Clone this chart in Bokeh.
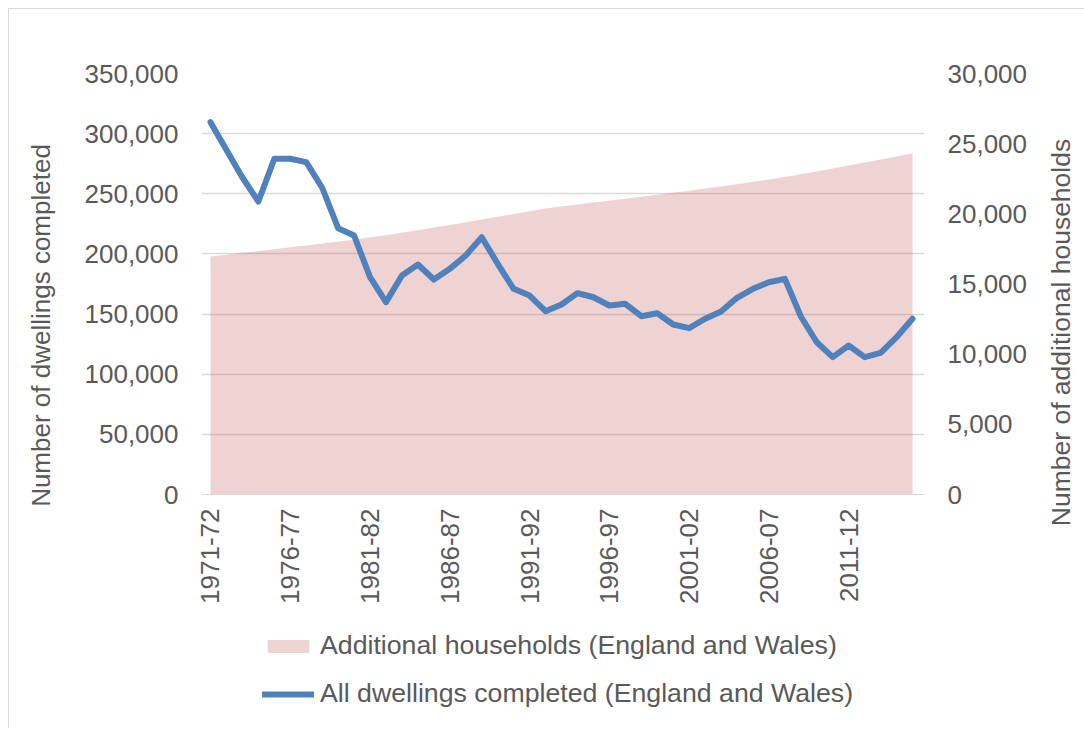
import math
from bokeh.plotting import figure
from bokeh.layouts import row, column
from bokeh.models import (Range1d, LinearAxis, FixedTicker, NumeralTickFormatter,
                          Legend, LegendItem, Label, ColumnDataSource)
from bokeh.embed import file_html
from bokeh.resources import INLINE

# ---------------- data ----------------
categories = ["1971-72", "1972-73", "1973-74", "1974-75", "1975-76", "1976-77", "1977-78",
              "1978-79", "1979-80", "1980-81", "1981-82", "1982-83", "1983-84", "1984-85",
              "1985-86", "1986-87", "1987-88", "1988-89", "1989-90", "1990-91", "1991-92",
              "1992-93", "1993-94", "1994-95", "1995-96", "1996-97", "1997-98", "1998-99",
              "1999-00", "2000-01", "2001-02", "2002-03", "2003-04", "2004-05", "2005-06",
              "2006-07", "2007-08", "2008-09", "2009-10", "2010-11", "2011-12", "2012-13",
              "2013-14", "2014-15", "2015-16"]

dwellings_completed = [309500, 286500, 263600, 243600, 279100, 279100, 276300, 255000, 221400,
                       215300, 180700, 159900, 182100, 191200, 178700, 187600, 198700, 213900,
                       191800, 171000, 165400, 152400, 158000, 167400, 164000, 157100, 158500,
                       148200, 150700, 141300, 138300, 146100, 152100, 163500, 171000, 176500,
                       179300, 148000, 126600, 114200, 123900, 114200, 117800, 130800, 146100]

additional_households = [16960, 17090, 17220, 17350, 17480, 17610, 17740, 17880, 18020, 18160,
                         18330, 18480, 18650, 18830, 19020, 19210, 19400, 19600, 19800, 19990,
                         20180, 20380, 20520, 20660, 20800, 20940, 21080, 21220, 21360, 21500,
                         21650, 21800, 21950, 22110, 22280, 22450, 22630, 22820, 23020, 23230,
                         23440, 23650, 23870, 24090, 24320]

label_every = 5
left_ticks = [0, 50000, 100000, 150000, 200000, 250000, 300000, 350000]
right_ticks = [0, 5000, 10000, 15000, 20000, 25000, 30000]

left_title = "Number of dwellings completed"
right_title = "Number of additional households"
area_name = "Additional households (England and Wales)"
line_name = "All dwellings completed (England and Wales)"

# ---------------- styling ----------------
FONT = "Liberation Sans"
TXT = "#595959"
GRID = "#d9d9d9"
FS = "26px"
AREA_COLOR = "#C0504D"
AREA_ALPHA = 0.25
LINE_COLOR = "#4F81BD"
LINE_W = 6

TOTAL_H = 719


def strip(width, height, x_range=None):
    f = figure(width=width, height=height, output_backend="svg", toolbar_location=None,
               x_range=x_range if x_range is not None else Range1d(0, 1),
               y_range=Range1d(0, 1),
               x_axis_location=None, y_axis_location=None,
               min_border=0, min_border_left=0, min_border_right=0,
               min_border_top=0, min_border_bottom=0)
    f.outline_line_color = None
    f.background_fill_color = "white"
    f.border_fill_color = "white"
    f.grid.visible = False
    f.xgrid.visible = False
    f.ygrid.visible = False
    return f


def style_axis(ax, standoff):
    ax.major_tick_line_color = None
    ax.minor_tick_line_color = None
    ax.major_tick_out = 0
    ax.major_tick_in = 0
    ax.minor_tick_out = 0
    ax.minor_tick_in = 0
    ax.major_label_text_font = FONT
    ax.major_label_text_font_size = FS
    ax.major_label_text_color = TXT
    ax.major_label_standoff = standoff


idx = list(range(len(categories)))
src = ColumnDataSource(dict(x=idx, dw=dwellings_completed, hh=additional_households,
                            cat=categories))

# ---------------- main chart ----------------
p = figure(width=961, height=611, output_backend="svg", toolbar_location=None,
           x_range=Range1d(-0.563, 44.75), y_range=Range1d(0, 350000),
           min_border_left=132, min_border_right=105, min_border_top=64,
           min_border_bottom=126)
p.outline_line_color = None
p.background_fill_color = "white"
p.border_fill_color = "white"

p.extra_y_ranges = {"hh": Range1d(0, 30000)}

area = p.varea(x="x", y1=0, y2="hh", source=src, y_range_name="hh",
               fill_color=AREA_COLOR, fill_alpha=AREA_ALPHA)
line = p.line(x="x", y="dw", source=src, line_color=LINE_COLOR, line_width=LINE_W,
              line_join="round", line_cap="round")

p.xgrid.visible = False
p.ygrid.grid_line_color = GRID
p.ygrid.grid_line_width = 1.3
p.ygrid.ticker = FixedTicker(ticks=left_ticks)

xa = p.xaxis[0]
xa.ticker = FixedTicker(ticks=idx[::label_every])
xa.major_label_overrides = {i: categories[i] for i in idx[::label_every]}
xa.major_label_orientation = math.pi / 2
xa.axis_line_color = GRID
style_axis(xa, 14)

ya = p.yaxis[0]
ya.ticker = FixedTicker(ticks=left_ticks)
ya.formatter = NumeralTickFormatter(format="0,0")
ya.axis_line_color = None
style_axis(ya, 23)

ra = LinearAxis(y_range_name="hh", ticker=FixedTicker(ticks=right_ticks),
                formatter=NumeralTickFormatter(format="0,0"))
ra.axis_line_color = None
style_axis(ra, 23)
p.add_layout(ra, "right")

# ---------------- legend panel ----------------
# proxy renderers share the real source but lie outside this panel's view,
# so only their legend swatches are seen
pleg = strip(961, TOTAL_H - 611, x_range=Range1d(1000, 1001))
leg_area = pleg.varea(x="x", y1=0, y2="hh", source=src,
                      fill_color=AREA_COLOR, fill_alpha=AREA_ALPHA)
leg_line = pleg.line(x="x", y="dw", source=src, line_color=LINE_COLOR,
                     line_width=LINE_W, line_cap="round")
legend = Legend(items=[LegendItem(label=area_name, renderers=[leg_area]),
                       LegendItem(label=line_name, renderers=[leg_line])],
                location=(61, 19), orientation="vertical")
legend.label_text_font = FONT
legend.label_text_font_size = "26.7px"
legend.label_text_color = TXT
legend.glyph_width = 52
legend.glyph_height = 16
legend.label_standoff = 6
legend.spacing = 17
legend.padding = 0
legend.margin = 0
legend.border_line_color = None
legend.background_fill_alpha = 0
pleg.add_layout(legend)

# ---------------- axis title strips ----------------
pl = strip(60, TOTAL_H)
pl.add_layout(Label(x=31, y=403, x_units="screen", y_units="screen", text=left_title,
                    angle=math.pi / 2, text_align="center", text_baseline="middle",
                    text_font=FONT, text_font_size=FS, text_color=TXT))

pr = strip(54, TOTAL_H)
pr.add_layout(Label(x=30, y=396, x_units="screen", y_units="screen", text=right_title,
                    angle=math.pi / 2, text_align="center", text_baseline="middle",
                    text_font=FONT, text_font_size="26.5px", text_color=TXT))

layout = row(pl, column(p, pleg, spacing=0), pr, spacing=0)
layout.styles = {"margin-left": "8px", "margin-top": "8px",
                 "border-left": "1px solid #d9d9d9", "border-top": "1px solid #d9d9d9",
                 "background-color": "white"}

open("out.html", "w").write(file_html(layout, INLINE))
